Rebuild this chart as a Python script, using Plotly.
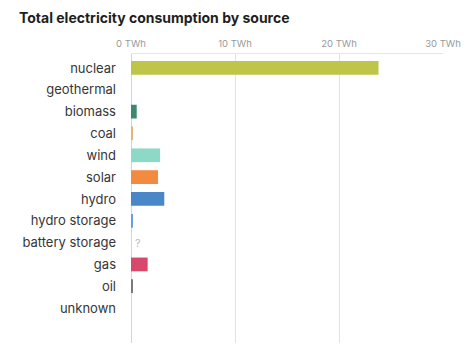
import plotly.graph_objects as go

categories = ["nuclear", "geothermal", "biomass", "coal", "wind", "solar", "hydro",
              "hydro storage", "battery storage", "gas", "oil", "unknown"]
values = [23.8, 0, 0.55, 0.1, 2.8, 2.6, 3.2, 0.12, None, 1.6, 0.15, 0]
colors = ["#bec548", "#a0a0a0", "#3b8a6e", "#e2b577", "#8ed8c8", "#f28a3f", "#4a87c9",
          "#6b9fd6", "#cccccc", "#d8486b", "#7a7a7a", "#999999"]
x_ticks = [0, 10, 20, 30]
x_tick_labels = ["0 TWh", "10 TWh", "20 TWh", "30 TWh"]

fig = go.Figure()
fig.add_trace(go.Bar(
    y=categories, x=values, orientation="h",
    marker=dict(color=colors, line=dict(width=0)),
    width=0.63, hoverinfo="x+y",
))
fig.add_annotation(x=0.2, y="battery storage", text="?", showarrow=False,
                   xanchor="left", font=dict(size=11, color="#bbbbbb", family="Inter"))

fig.update_layout(
    width=471, height=347,
    margin=dict(l=131, r=28, t=54, b=4),
    paper_bgcolor="#ffffff", plot_bgcolor="#ffffff",
    title=dict(text="<b>Total electricity consumption by source</b>",
               x=19/471, xanchor="left", y=1-18/347, yanchor="middle",
               font=dict(family="Inter", size=14, color="#1e1e1e")),
    showlegend=False,
    bargap=0.37,
)
fig.update_xaxes(
    side="top", range=[0, 30], tickvals=x_ticks, ticktext=x_tick_labels,
    showgrid=True, gridcolor="#e2e2e2", gridwidth=1,
    zeroline=True, zerolinecolor="#d5d5d5", zerolinewidth=1,
    showline=True, linecolor="#e6e6e6", linewidth=1,
    tickfont=dict(family="Inter", size=9.5, color="#999999"),
    ticks="", ticklabelstandoff=2, fixedrange=True,
)
fig.update_yaxes(
    categoryorder="array", categoryarray=categories,
    range=[12.6, -0.64], showgrid=False, zeroline=False,
    tickfont=dict(family="Inter", size=13, color="#363636"),
    ticks="", ticklabelstandoff=14, fixedrange=True,
)

fig.write_html("out.html")
